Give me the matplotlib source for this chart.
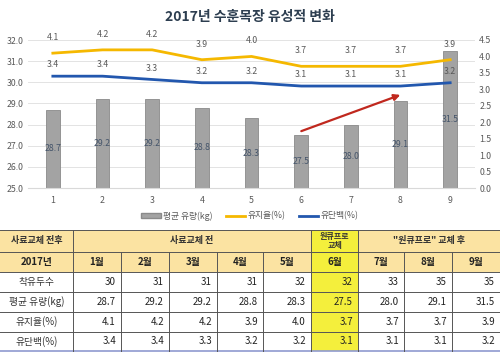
import numpy as np
import matplotlib.pyplot as plt
from matplotlib.patches import Rectangle
from matplotlib.lines import Line2D

plt.rcParams['font.family'] = ['Noto Sans CJK KR', 'DejaVu Sans']

# data
months = [1, 2, 3, 4, 5, 6, 7, 8, 9]
heads = [30, 31, 31, 31, 32, 32, 33, 35, 35]
milk = [28.7, 29.2, 29.2, 28.8, 28.3, 27.5, 28.0, 29.1, 31.5]
fat = [4.1, 4.2, 4.2, 3.9, 4.0, 3.7, 3.7, 3.7, 3.9]
protein = [3.4, 3.4, 3.3, 3.2, 3.2, 3.1, 3.1, 3.1, 3.2]
row_names = ['착유두수', '평균 유량(kg)', '유지율(%)', '유단백(%)']
month_labels = ['%d월' % m for m in months]

W, H = 500, 352
fig = plt.figure(figsize=(W / 100, H / 100), dpi=100)
fig.patch.set_facecolor('white')

def px(x0, y0, x1, y1):
    # pixel box (top-left origin) -> figure fraction rect
    return [x0 / W, 1 - y1 / H, (x1 - x0) / W, (y1 - y0) / H]

# ---- chart ----
ax = fig.add_axes(px(28, 40, 475, 188))
x = np.arange(len(months))
bars = ax.bar(x, [m - 25 for m in milk], bottom=25, width=0.28,
              color='#a3a3a3', edgecolor='#8a8a8a', linewidth=0.6, zorder=2)
for xi, m in zip(x, milk):
    ax.text(xi, (25 + m) / 2, '%.1f' % m, ha='center', va='center',
            fontsize=6.3, color='#44546a', zorder=3)
ax.set_ylim(25, 32)
ax.set_yticks(np.arange(25, 32.01, 1))
ax.set_yticklabels(['%.1f' % v for v in np.arange(25, 32.01, 1)])
ax.set_xlim(-0.5, len(months) - 0.5)
ax.set_xticks(x)
ax.set_xticklabels([str(m) for m in months])
ax.grid(axis='y', color='#e3e3e3', linewidth=0.7, zorder=0)
ax.set_axisbelow(True)
for s in ['top', 'left', 'right']:
    ax.spines[s].set_visible(False)
ax.spines['bottom'].set_color('#d9d9d9')
ax.tick_params(axis='both', length=0, labelsize=6.3, colors='#595959')
ax.tick_params(axis='x', pad=6)
ax.tick_params(axis='y', pad=3)

ax2 = ax.twinx()
ax2.plot(x, fat, color='#f5b800', linewidth=2.0, zorder=4)
ax2.plot(x, protein, color='#2257ae', linewidth=2.0, zorder=4)
for xi, v in zip(x, fat):
    ax2.annotate('%.1f' % v, (xi, v), xytext=(0, 8), textcoords='offset points',
                 ha='center', va='bottom', fontsize=6.3, color='#595959')
for xi, v in zip(x, protein):
    ax2.annotate('%.1f' % v, (xi, v), xytext=(0, 5), textcoords='offset points',
                 ha='center', va='bottom', fontsize=6.3, color='#595959')
ax2.set_ylim(0, 4.5)
ax2.set_yticks(np.arange(0, 4.51, 0.5))
ax2.set_yticklabels(['%.1f' % v for v in np.arange(0, 4.51, 0.5)])
for s in ['top', 'left', 'right', 'bottom']:
    ax2.spines[s].set_visible(False)
ax2.tick_params(axis='y', length=0, labelsize=6.3, colors='#595959', pad=3)

# red arrow 6 -> 8
ax2.annotate('', xy=(7.05, 2.86), xytext=(4.95, 1.7),
             arrowprops=dict(arrowstyle='-|>', color='#c0281e', lw=1.6,
                             mutation_scale=9))

fig.text(0.5, 1 - 17 / H, '2017년 수훈목장 유성적 변화', ha='center', va='center',
         fontsize=10, fontweight='bold', color='#2d3e50')

handles = [Rectangle((0, 0), 1, 1, facecolor='#a3a3a3', edgecolor='#8a8a8a'),
           Line2D([0], [0], color='#f5b800', lw=2),
           Line2D([0], [0], color='#2257ae', lw=2)]
fig.legend(handles, ['평균 유량(kg)', '유지율(%)', '유단백(%)'], loc='center',
           bbox_to_anchor=(0.5, 1 - 216 / H), ncol=3, frameon=False,
           fontsize=6.3, handlelength=2.2, handleheight=0.5, columnspacing=1.5,
           handletextpad=0.3, labelcolor='#595959')

# ---- table ----
tb = fig.add_axes([0, 0, 1, 1])
tb.set_xlim(0, W)
tb.set_ylim(H, 0)
tb.axis('off')

cols = [0, 73, 121, 169, 217, 263, 311, 358, 404, 452, 500]
rows = [230, 252, 272, 292, 312, 332, 351]
hdr = '#fbe3a2'
hi = '#f4ef3c'
line_c = '#555555'

def cell(x0, x1, y0, y1, fc):
    tb.add_patch(Rectangle((x0, y0), x1 - x0, y1 - y0, facecolor=fc,
                           edgecolor='none', zorder=1))

# header row 1
cell(0, 500, rows[0], rows[2], hdr)
cell(cols[6], cols[7], rows[0], rows[-1], hi)
for r in range(2, 6):
    for c in range(10):
        if c != 6:
            cell(cols[c], cols[c + 1], rows[r], rows[r + 1], 'white')

ymid = lambda r: (rows[r] + rows[r + 1]) / 2
xmid = lambda c: (cols[c] + cols[c + 1]) / 2

tb.text(xmid(0), ymid(0), '사료교체 전후', ha='center', va='center',
        fontsize=6.5, fontweight='bold', color='#333333', zorder=3)
tb.text((cols[1] + cols[6]) / 2, ymid(0), '사료교체 전', ha='center', va='center',
        fontsize=6.5, fontweight='bold', color='#333333', zorder=3)
tb.text(xmid(6), ymid(0), '원큐프로\n교체', ha='center', va='center',
        fontsize=5.8, fontweight='bold', color='#333333', linespacing=1.0, zorder=3)
tb.text((cols[7] + cols[10]) / 2, ymid(0), '"원큐프로" 교체 후', ha='center',
        va='center', fontsize=6.5, fontweight='bold', color='#333333', zorder=3)

tb.text(xmid(0), ymid(1), '2017년', ha='center', va='center',
        fontsize=7, fontweight='bold', color='#222222', zorder=3)
for c, lab in enumerate(month_labels):
    tb.text(xmid(c + 1), ymid(1), lab, ha='center', va='center',
            fontsize=7, fontweight='bold', color='#222222', zorder=3)

table_vals = [[str(v) for v in heads],
              ['%.1f' % v for v in milk],
              ['%.1f' % v for v in fat],
              ['%.1f' % v for v in protein]]
for r, (name, vals) in enumerate(zip(row_names, table_vals)):
    tb.text(xmid(0), ymid(r + 2), name, ha='center', va='center',
            fontsize=7, color='#333333', zorder=3)
    for c, v in enumerate(vals):
        tb.text(cols[c + 2] - 5, ymid(r + 2), v, ha='right', va='center',
                fontsize=7, color='#222222', zorder=3)

# grid lines
for y in rows[:-1]:
    tb.plot([0, W], [y, y], color=line_c, lw=0.7, zorder=2)
tb.plot([0, W], [rows[-1], rows[-1]], color='#8f9ad0', lw=1.2, zorder=2)
tb.plot([cols[1], cols[1]], [rows[0], rows[-1]], color=line_c, lw=0.7, zorder=2)
tb.plot([cols[6], cols[6]], [rows[0], rows[-1]], color=line_c, lw=0.7, zorder=2)
tb.plot([cols[7], cols[7]], [rows[0], rows[-1]], color=line_c, lw=0.7, zorder=2)
for c in [2, 3, 4, 5, 8, 9]:
    tb.plot([cols[c], cols[c]], [rows[1], rows[-1]], color=line_c, lw=0.7, zorder=2)

fig.savefig('out.png', dpi=100)
